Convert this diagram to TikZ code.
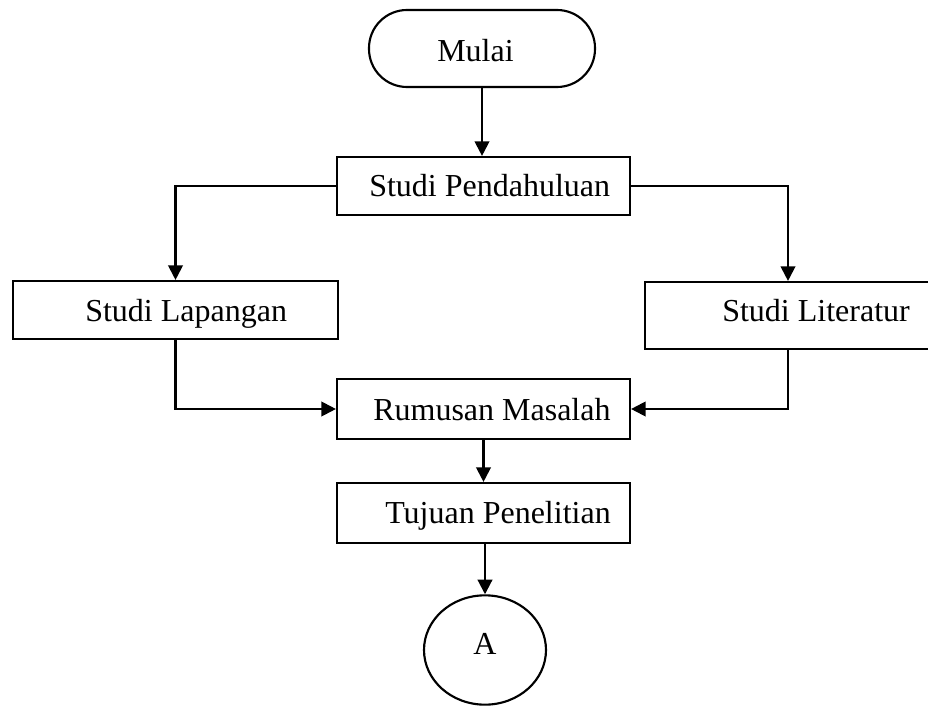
\documentclass[tikz,border=0pt]{standalone}
\usepackage{fontspec}
\setmainfont{Liberation Serif}
\usetikzlibrary{arrows.meta,fit,shapes.geometric}
\tikzset{
  box/.style={draw,line width=1.6pt,inner sep=0pt,rectangle},
  startbox/.style={draw,line width=1.6pt,inner sep=0pt,rectangle,rounded corners=28.5pt},
  conn/.style={draw,line width=1.6pt,-{Triangle[length=11pt,width=11pt]}},
  lbl/.style={anchor=base west,inner sep=0pt,font=\fontsize{24}{28}\selectfont}
}
\begin{document}
\begin{tikzpicture}[x=0.75pt,y=-0.75pt]
\clip (0,0) rectangle (928,706);
% boxes
\node[startbox,fit={(369,10) (595,87)}] (mulai) {};
\node[box,fit={(337,157) (630,215)}] (sp) {};
\node[box,fit={(13,281) (338,339)}] (lap) {};
\node[box,fit={(645,282) (931,349)}] (lit) {};
\node[box,fit={(337,379) (630,439)}] (rm) {};
\node[box,fit={(337,483) (630,543)}] (tp) {};
\node[draw,line width=1.6pt,ellipse,inner sep=0pt,minimum width=91.5pt,minimum height=82pt] (a) at (485,650) {};
% labels
\node[lbl] (tmulai) at (437,62) {Mulai};
\node[lbl] (tsp) at (369,197) {Studi Pendahuluan};
\node[lbl] (tlap) at (85,321.7) {Studi Lapangan};
\node[lbl] (tlit) at (722,321.7) {Studi Literatur};
\node[lbl] (trm) at (373,420) {Rumusan Masalah};
\node[lbl] (ttp) at (385,523) {Tujuan Penelitian};
\node[lbl] (ta) at (473,654) {A};
% connectors
\draw[conn] (mulai.south) -- (mulai.south |- sp.north);
\draw[conn] (sp.west) -| (lap.north);
\draw[conn] (sp.east) -| (lit.north);
\draw[conn] (lap.south) |- (rm.west);
\draw[conn] (lit.south) |- (rm.east);
\draw[conn] (rm.south) -- (tp.north);
\draw[conn] (a.north |- tp.south) -- (a.north);
\end{tikzpicture}
\end{document}
